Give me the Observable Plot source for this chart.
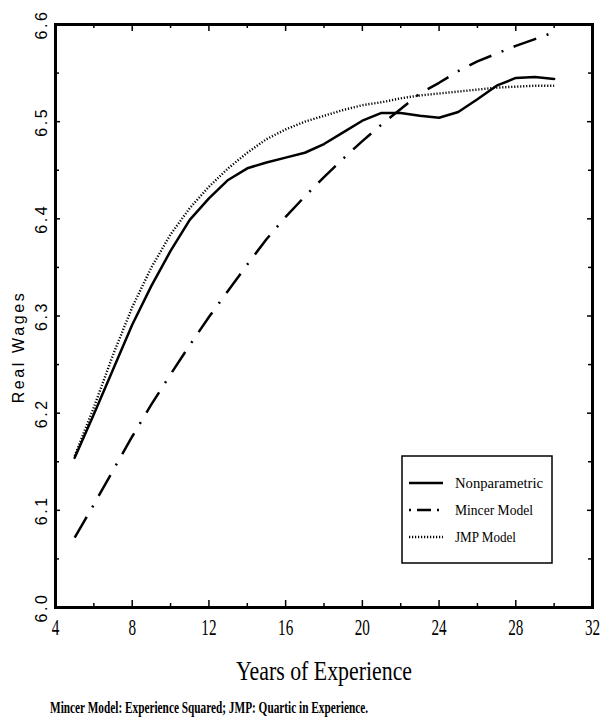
<!DOCTYPE html>
<html>
<head>
<meta charset="utf-8">
<script src="https://cdn.jsdelivr.net/npm/d3@7"></script>
<script src="https://cdn.jsdelivr.net/npm/@observablehq/plot@0.6"></script>
<style>
  html, body { margin: 0; padding: 0; background: #fff; }
  #chart { position: relative; width: 608px; height: 717px; background: #fff; }
  #caption {
    position: absolute; left: 50px; top: 699px;
    font-family: "Liberation Serif", serif; font-size: 17px; font-weight: bold;
    line-height: 1; white-space: nowrap; transform-origin: left top; color: #000;
  }
  #legend { position: absolute; left: 401px; top: 455px; }
</style>
</head>
<body>
<div id="chart"></div>
<script>
// Years of potential labour-market experience
const years = [5, 6, 7, 8, 9, 10, 11, 12, 13, 14, 15, 16, 17, 18, 19, 20, 21, 22, 23, 24, 25, 26, 27, 28, 29, 30];

// Log real wage profiles
const nonparametric = [6.154, 6.199, 6.245, 6.291, 6.331, 6.367, 6.399, 6.421, 6.440, 6.452, 6.458, 6.463, 6.468,
                       6.477, 6.489, 6.501, 6.509, 6.509, 6.506, 6.504, 6.510, 6.523, 6.537, 6.545, 6.546, 6.544];
const mincer = [6.072, 6.106, 6.141, 6.176, 6.209, 6.240, 6.270, 6.299, 6.326, 6.353, 6.379, 6.402, 6.423,
                6.443, 6.462, 6.480, 6.497, 6.513, 6.529, 6.540, 6.552, 6.562, 6.570, 6.578, 6.585, 6.592];
const jmp = [6.156, 6.206, 6.260, 6.309, 6.350, 6.384, 6.411, 6.433, 6.452, 6.468, 6.482, 6.492, 6.500,
             6.506, 6.512, 6.517, 6.520, 6.524, 6.527, 6.529, 6.531, 6.533, 6.535, 6.536, 6.537, 6.537];

const seriesNames = ["Nonparametric", "Mincer Model", "JMP Model"];
const seriesValues = [nonparametric, mincer, jmp];

// Axis ticks and labels
const xTickLabels = [4, 8, 12, 16, 20, 24, 28, 32];
const xMajorTicks = [8, 12, 16, 20, 24, 28];
const xMinorTicks = [6, 10, 14, 18, 22, 26, 30];
const yTickLabels = [6.0, 6.1, 6.2, 6.3, 6.4, 6.5, 6.6];
const yMajorTicks = [6.1, 6.2, 6.3, 6.4, 6.5];
const yMinorTicks = [6.05, 6.15, 6.25, 6.35, 6.45, 6.55];

const xTitle = "Years of Experience";
const yTitle = "Real Wages";
const captionText = "Mincer Model: Experience Squared; JMP: Quartic in Experience.";

// Line styles per series
const styles = {
  "Nonparametric": {dash: null, width: 2.5, cap: "round"},
  "Mincer Model": {dash: "24,11,2,11", width: 2.5, cap: "butt"},
  "JMP Model": {dash: "1.2,1.8", width: 2.4, cap: "butt"}
};

const rows = seriesNames.flatMap((name, i) =>
  years.map((year, j) => ({series: name, year, value: seriesValues[i][j]})));

const W = 608, H = 695;
const mL = 55, mR = 16, mT = 24, mB = 88;
const FW = W - mL - mR, FH = H - mT - mB;
const serif = "'Liberation Serif', 'Times New Roman', serif";
const sans = "'Liberation Sans', Arial, sans-serif";

const lineMarks = seriesNames.map(name => Plot.line(rows.filter(d => d.series === name), {
  x: "year", y: "value", stroke: "black",
  strokeWidth: styles[name].width,
  strokeDasharray: styles[name].dash,
  strokeLinecap: styles[name].cap,
  strokeLinejoin: "round"
}));

const plot = Plot.plot({
  width: W, height: H,
  marginLeft: mL, marginRight: mR, marginTop: mT, marginBottom: mB,
  x: {domain: [4, 32], axis: null},
  y: {domain: [6.0, 6.6], axis: null},
  style: {background: "white", color: "black", fontFamily: sans},
  marks: [
    // inward ticks: bottom and top
    Plot.tickX(xMajorTicks, {x: d => d, insetTop: FH - 7, strokeWidth: 1.5}),
    Plot.tickX(xMinorTicks, {x: d => d, insetTop: FH - 4, strokeWidth: 1.5}),
    Plot.tickX(xMajorTicks, {x: d => d, insetBottom: FH - 7, strokeWidth: 1.5}),
    Plot.tickX(xMinorTicks, {x: d => d, insetBottom: FH - 4, strokeWidth: 1.5}),
    // inward ticks: left and right
    Plot.tickY(yMajorTicks, {y: d => d, insetRight: FW - 5, strokeWidth: 1.5}),
    Plot.tickY(yMinorTicks, {y: d => d, insetRight: FW - 4, strokeWidth: 1.5}),
    Plot.tickY(yMajorTicks, {y: d => d, insetLeft: FW - 5, strokeWidth: 1.5}),
    Plot.tickY(yMinorTicks, {y: d => d, insetLeft: FW - 4, strokeWidth: 1.5}),
    ...lineMarks,
    Plot.frame({stroke: "black", strokeWidth: 3}),
    Plot.text(xTickLabels, {
      x: d => d, frameAnchor: "bottom", dy: 27, text: d => String(d),
      fontFamily: serif, fontSize: 23
    }),
    Plot.text(yTickLabels, {
      y: d => d, frameAnchor: "left", dx: -14, rotate: () => -90, text: d => d.toFixed(1),
      textAnchor: "middle", fontFamily: sans, fontSize: 16
    }),
    Plot.text([yTitle], {
      frameAnchor: "left", dx: -37, dy: 31, rotate: -90, text: d => d,
      textAnchor: "middle", fontFamily: sans, fontSize: 16
    }),
    Plot.text([xTitle], {
      frameAnchor: "bottom", dy: 72, text: d => d,
      fontFamily: serif, fontSize: 28
    })
  ]
});

const chart = document.getElementById("chart");
chart.appendChild(plot);

// Condense serif text horizontally; space out the sans labels
function condense(textEl, k) {
  const len = textEl.getComputedTextLength();
  textEl.setAttribute("textLength", (len * k).toFixed(2));
  textEl.setAttribute("lengthAdjust", "spacingAndGlyphs");
}
const xLabelSet = new Set(xTickLabels.map(String));
const yLabelSet = new Set(yTickLabels.map(d => d.toFixed(1)));
plot.querySelectorAll("text").forEach(t => {
  const s = t.textContent;
  if (xLabelSet.has(s)) condense(t, 0.66);
  else if (s === xTitle) condense(t, 0.78);
  else if (yLabelSet.has(s) || s === yTitle) t.setAttribute("letter-spacing", "2.6");
});

// Legend
const legend = d3.create("svg").attr("id", "legend").attr("width", 153).attr("height", 110);
legend.append("rect").attr("x", 1).attr("y", 1).attr("width", 150).attr("height", 107)
  .attr("fill", "white").attr("stroke", "black").attr("stroke-width", 1.5);
const legendTargets = {"Nonparametric": 88, "Mincer Model": 78, "JMP Model": 61};
seriesNames.forEach((name, i) => {
  const y = 28 + i * 27;
  legend.append("line").attr("x1", 8).attr("x2", 42).attr("y1", y).attr("y2", y)
    .attr("stroke", "black").attr("stroke-width", styles[name].width)
    .attr("stroke-linecap", "butt")
    .attr("stroke-dasharray", name === "Mincer Model" ? "2,6,14,6,2,6" : styles[name].dash);
  legend.append("text").attr("x", 54).attr("y", y).attr("dy", "0.34em")
    .attr("font-family", serif).attr("font-size", 15.5).attr("fill", "black")
    .attr("data-target", legendTargets[name]).text(name);
});
chart.appendChild(legend.node());
legend.selectAll("text").each(function () {
  this.setAttribute("textLength", this.getAttribute("data-target"));
  this.setAttribute("lengthAdjust", "spacingAndGlyphs");
});

// Caption
const cap = document.createElement("div");
cap.id = "caption";
cap.textContent = captionText;
chart.appendChild(cap);
const capW = cap.getBoundingClientRect().width;
cap.style.transform = `scaleX(${(318 / capW).toFixed(4)})`;
</script>
</body>
</html>
